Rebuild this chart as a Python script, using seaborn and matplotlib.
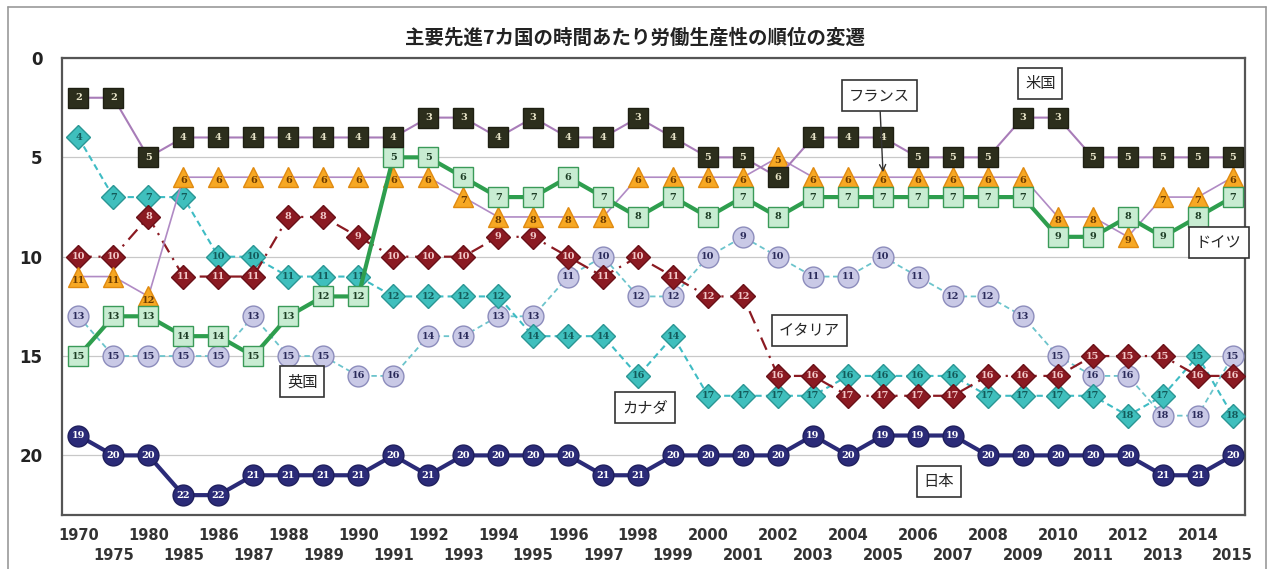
import matplotlib
matplotlib.use("Agg")
import matplotlib.pyplot as plt
import seaborn as sns
import numpy as np
import pandas as pd

# data
years = ['1970', '1975', '1980'] + [str(y) for y in range(1985, 2016)]

usa = [2, 2, 5, 4, 4, 4, 4, 4, 4, 4, 3, 3, 4, 3, 4, 4, 3, 4, 5, 5, 6, 4, 4, 4, 5, 5, 5, 3, 3, 5, 5, 5, 5, 5]
france = [11, 11, 12, 6, 6, 6, 6, 6, 6, 6, 6, 7, 8, 8, 8, 8, 6, 6, 6, 6, 5, 6, 6, 6, 6, 6, 6, 6, 8, 8, 9, 7, 7, 6]
germany = [15, 13, 13, 14, 14, 15, 13, 12, 12, 5, 5, 6, 7, 7, 6, 7, 8, 7, 8, 7, 8, 7, 7, 7, 7, 7, 7, 7, 9, 9, 8, 9, 8, 7]
italy = [10, 10, 8, 11, 11, 11, 8, 8, 9, 10, 10, 10, 9, 9, 10, 11, 10, 11, 12, 12, 16, 16, 17, 17, 17, 17, 16, 16, 16, 15, 15, 15, 16, 16]
canada = [4, 7, 7, 7, 10, 10, 11, 11, 11, 12, 12, 12, 12, 14, 14, 14, 16, 14, 17, 17, 17, 17, 16, 16, 16, 16, 17, 17, 17, 17, 18, 17, 15, 18]
uk = [13, 15, 15, 15, 15, 13, 15, 15, 16, 16, 14, 14, 13, 13, 11, 10, 12, 12, 10, 9, 10, 11, 11, 10, 11, 12, 12, 13, 15, 16, 16, 18, 18, 15]
japan = [19, 20, 20, 22, 22, 21, 21, 21, 21, 20, 21, 20, 20, 20, 20, 21, 21, 20, 20, 20, 20, 19, 20, 19, 19, 19, 20, 20, 20, 20, 20, 21, 21, 20]

countries = ['英国', 'カナダ', 'イタリア', 'フランス', 'ドイツ', '米国', '日本']
values = [uk, canada, italy, france, germany, usa, japan]

# style per country: line colour, line style, width, marker, size, face, edge, text colour
styles = {
    '英国':   dict(lc='#6cc4cc', ls=(0, (3, 2)), lw=1.3, m='o', ms=15, fc='#c9c9e6', ec='#8c8cbc', tc='#2a2a5a'),
    'カナダ': dict(lc='#3fbcc4', ls=(0, (3, 2)), lw=1.5, m='D', ms=12, fc='#3fbfbd', ec='#2a9694', tc='#135a5a'),
    'イタリア': dict(lc='#8b1a22', ls=(0, (6, 3, 1, 3)), lw=1.6, m='D', ms=12, fc='#8b1a22', ec='#6a1018', tc='#f2c8c8'),
    'フランス': dict(lc='#b08ac4', ls='-', lw=1.2, m='^', ms=15, fc='#f7a823', ec='#e08a10', tc='#6a3a00'),
    'ドイツ': dict(lc='#2e9e4e', ls='-', lw=3.0, m='s', ms=14, fc='#c8ecd2', ec='#3a9a58', tc='#1d3d25'),
    '米国':   dict(lc='#a87cb8', ls='-', lw=1.5, m='s', ms=15, fc='#2c2e1c', ec='#1e1f12', tc='#e8e4c8'),
    '日本':   dict(lc='#2b2b78', ls='-', lw=3.0, m='o', ms=15, fc='#2b2b78', ec='#1e1e5c', tc='#ffffff'),
}

sns.set_theme(style='white')
plt.rcParams['font.family'] = ['Noto Sans CJK JP', 'DejaVu Sans']

fig = plt.figure(figsize=(12.69, 5.69), dpi=100)
ax = fig.add_axes([62 / 1269, 1 - 515 / 569, (1245 - 62) / 1269, (515 - 58) / 569])

x = np.arange(len(years))
for k, (name, vals) in enumerate(zip(countries, values)):
    st = styles[name]
    z = 3 + k
    df = pd.DataFrame({'x': x, 'rank': vals})
    sns.lineplot(data=df, x='x', y='rank', ax=ax, sort=False, color=st['lc'],
                 linestyle=st['ls'], linewidth=st['lw'], marker=st['m'],
                 markersize=st['ms'], markerfacecolor=st['fc'],
                 markeredgecolor=st['ec'], markeredgewidth=1.0, zorder=z)
    dy = 0.18 if st['m'] == '^' else 0
    for xi, v in zip(x, vals):
        ax.text(xi, v + dy, str(v), ha='center', va='center', fontsize=7,
                fontweight='bold', color=st['tc'], family='DejaVu Serif',
                zorder=z + 0.5)

ax.set_xlim(-0.47, 33.35)
ax.set_ylim(23, 0)
ax.set_yticks([0, 5, 10, 15, 20])
ax.set_yticklabels(['0', '5', '10', '15', '20'], fontsize=12, fontweight='bold',
                   color='#222222', family='DejaVu Sans')

# staggered year labels: even positions on the first row, odd ones on the second
ax.set_xticks(x[::2])
ax.set_xticklabels(years[::2], fontsize=10.5, fontweight='bold', color='#333333',
                   family='DejaVu Sans')
ax.set_xticks(x[1::2], minor=True)
ax.set_xticklabels(years[1::2], minor=True, fontsize=10.5, fontweight='bold',
                   color='#333333', family='DejaVu Sans')
ax.tick_params(axis='x', which='major', length=0, pad=9)
ax.tick_params(axis='x', which='minor', length=0, pad=24)
ax.tick_params(axis='y', length=0, pad=14)
ax.set_xlabel('')
ax.set_ylabel('')
ax.grid(axis='y', color='#c8c8c8', linewidth=0.9)
ax.grid(axis='x', visible=False, which='both')
for sp in ax.spines.values():
    sp.set_color('#555555')
    sp.set_linewidth(1.6)

fig.text(0.5, 1 - 38 / 569, '主要先進7カ国の時間あたり労働生産性の順位の変遷',
         ha='center', va='center', fontsize=14, fontweight='bold', color='#222222')

# outer frame of the chart object
fig.add_artist(plt.Line2D([8 / 1269, 8 / 1269], [0, 1 - 7 / 569], transform=fig.transFigure,
                          color='#999999', linewidth=1.2))
fig.add_artist(plt.Line2D([8 / 1269, 1266 / 1269], [1 - 7 / 569, 1 - 7 / 569],
                          transform=fig.transFigure, color='#999999', linewidth=1.2))
fig.add_artist(plt.Line2D([1266 / 1269, 1266 / 1269], [0, 1 - 7 / 569], transform=fig.transFigure,
                          color='#999999', linewidth=1.2))

box = dict(boxstyle='square,pad=0.45', facecolor='white', edgecolor='#333333', linewidth=1.2)
labels = [
    ('フランス', 22.9, 1.9),
    ('米国', 27.5, 1.3),
    ('ドイツ', 32.6, 9.3),
    ('イタリア', 20.9, 13.7),
    ('カナダ', 16.2, 17.6),
    ('英国', 6.4, 16.3),
    ('日本', 24.6, 21.3),
]
for text, lx, ly in labels:
    if text == 'フランス':
        ax.annotate(text, xy=(23, 5.75), xytext=(lx, ly), ha='center', va='center',
                    fontsize=11, bbox=box, zorder=20,
                    arrowprops=dict(arrowstyle='->', color='#333333', lw=1.0,
                                    shrinkA=0, shrinkB=0))
    else:
        ax.text(lx, ly, text, ha='center', va='center', fontsize=11, bbox=box, zorder=20)

fig.savefig('out.png', dpi=100)
